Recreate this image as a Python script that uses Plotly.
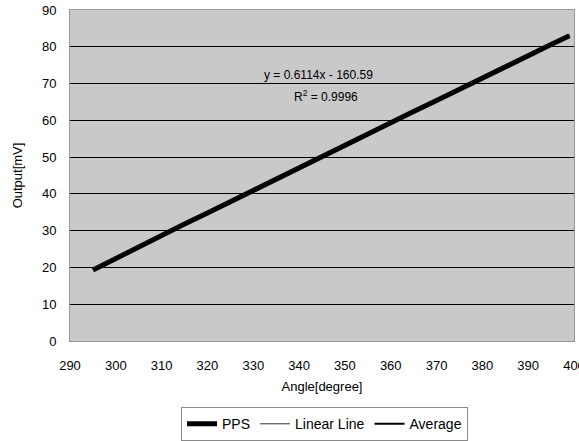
import plotly.graph_objects as go

angle = [295, 300, 305, 310, 315, 320, 325, 330, 335, 340, 345, 350,
         355, 360, 365, 370, 375, 380, 385, 390, 395, 399]
pps = [19.3, 22.5, 25.6, 28.7, 31.8, 34.8, 37.9, 41.0, 44.1, 47.1, 50.2,
       53.2, 56.3, 59.3, 62.4, 65.4, 68.5, 71.5, 74.6, 77.6, 80.6, 83.0]
average = [19.5, 22.6, 25.7, 28.7, 31.8, 34.9, 37.9, 41.0, 44.1, 47.1, 50.2,
           53.3, 56.3, 59.4, 62.4, 65.5, 68.5, 71.6, 74.6, 77.7, 80.7, 83.1]
linear_x = [295, 399]
linear_y = [19.77, 83.36]

x_ticks = [290, 300, 310, 320, 330, 340, 350, 360, 370, 380, 390, 400]
y_ticks = [0, 10, 20, 30, 40, 50, 60, 70, 80, 90]

font = "Liberation Sans, Arial, sans-serif"

fig = go.Figure()
fig.add_trace(go.Scatter(x=angle, y=pps, mode="lines", name="PPS",
                         line=dict(color="black", width=5)))
fig.add_trace(go.Scatter(x=linear_x, y=linear_y, mode="lines", name="Linear Line",
                         line=dict(color="#333333", width=1)))
fig.add_trace(go.Scatter(x=angle, y=average, mode="lines", name="Average",
                         line=dict(color="black", width=2)))

fig.add_annotation(x=344.3, y=72.4, text="y = 0.6114x - 160.59", showarrow=False,
                   font=dict(size=12, color="black", family=font))
fig.add_annotation(x=345.8, y=66.5, text="R<sup>2</sup> = 0.9996", showarrow=False,
                   font=dict(size=12, color="black", family=font))

fig.update_layout(
    width=579, height=441,
    margin=dict(l=70, r=5, t=10, b=100, autoexpand=False),
    paper_bgcolor="white",
    plot_bgcolor="#c9c9c9",
    font=dict(family=font, size=12, color="black"),
    showlegend=True,
    legend=dict(orientation="h", x=0.505, xanchor="center", y=-0.2, yanchor="top",
                bordercolor="#888888", borderwidth=1, font=dict(size=14),
                bgcolor="white", itemwidth=30, tracegroupgap=0),
    xaxis=dict(range=[290, 400], tickvals=x_ticks, automargin=False,
               showgrid=False, zeroline=False, showline=True, linecolor="#999999",
               mirror=True, ticks="", ticklabelstandoff=12, ticklabeloverflow="allow",
               tickfont=dict(size=13),
               title=dict(text="Angle[degree]", standoff=10, font=dict(size=13))),
    yaxis=dict(range=[0, 90], tickvals=y_ticks, showgrid=True, gridcolor="black",
               gridwidth=1, zeroline=False, showline=True, linecolor="#999999",
               mirror=True, ticks="", ticklabelstandoff=10, tickfont=dict(size=13),
               automargin=False,
               title=dict(text="Output[mV]", standoff=16, font=dict(size=13))),
)

fig.write_html("out.html")
